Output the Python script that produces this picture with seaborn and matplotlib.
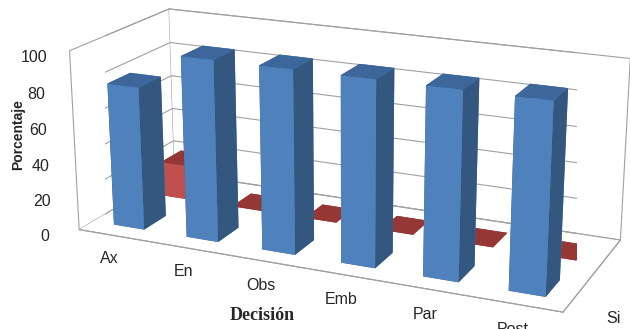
import numpy as np
import pandas as pd
import matplotlib
matplotlib.use("Agg")
import matplotlib.pyplot as plt
import seaborn as sns

# Chart data
categories = ["Ax", "En", "Obs", "Emb", "Par", "Post"]
series = ["Si", "No"]
si_values = [80, 100, 100, 100, 100, 100]
no_values = [20, 0, 0, 0, 0, 0]
z_ticks = [0, 20, 40, 60, 80, 100]

sns.set_style("white")
plt.rcParams["font.family"] = ["Liberation Sans Narrow", "Liberation Sans", "DejaVu Sans"]

df = pd.DataFrame({
    "Decisión": categories * 2,
    "Respuesta": ["Si"] * len(categories) + ["No"] * len(categories),
    "Porcentaje": si_values + no_values,
})

# Office-like face colours: front, side (+x), top
palette = {
    "Si": {"front": "#4F81BD", "side": "#34577F", "top": "#3D679B"},
    "No": {"front": "#C0504D", "side": "#8C3532", "top": "#953735"},
}

fig = plt.figure(figsize=(6.3, 3.29), dpi=100)
ax = fig.add_axes([-0.052, -0.181, 1.187, 1.434], projection="3d")
ax.set_proj_type("persp", focal_length=0.65)
ax.view_init(elev=18, azim=-66)

bar_w = 0.42
bar_d = 0.45
xs, ys, dzs, face_cols = [], [], [], []
for _, row in df.iterrows():
    xi = categories.index(row["Decisión"])
    yi = series.index(row["Respuesta"])
    xs.append(xi - bar_w / 2)
    ys.append(yi - bar_d / 2)
    dzs.append(row["Porcentaje"])
    c = palette[row["Respuesta"]]
    # bar3d face order: -z, +z, -y, +y, -x, +x
    face_cols += [c["top"], c["top"], c["front"], c["front"], c["side"], c["side"]]

n = len(xs)
ax.bar3d(xs, ys, np.zeros(n), np.full(n, bar_w), np.full(n, bar_d), dzs,
         color=face_cols, shade=False, edgecolor="none")

xmin, xmax = -0.5, len(categories) - 0.5
ymin, ymax = -0.5, len(series) - 0.5
ax.set_xlim(xmin, xmax)
ax.set_ylim(ymin, ymax)
ax.set_zlim(0, 100)
ax.set_box_aspect((6.8, 2.6, 2.5), zoom=1.2)

# Panes: white with grey outlines, no built-in grid
ax.grid(False)
for axis in (ax.xaxis, ax.yaxis, ax.zaxis):
    axis.set_pane_color((1, 1, 1, 1))
    axis.pane.set_edgecolor("#A0A0A0")
    axis.pane.set_linewidth(0.8)
    axis.line.set_color("#A0A0A0")
    axis.line.set_linewidth(0.8)
    axis._axinfo["tick"]["inward_factor"] = 0
    axis._axinfo["tick"]["outward_factor"] = 0
ax.zaxis.set_ticks_position("lower")

# Horizontal gridlines on the back and left walls
for z in z_ticks:
    ax.plot([xmin, xmax], [ymax, ymax], [z, z], color="#A0A0A0", lw=0.8, zorder=0)
    ax.plot([xmin, xmin], [ymin, ymax], [z, z], color="#A0A0A0", lw=0.8, zorder=0)

ax.set_xticks(range(len(categories)))
ax.set_xticklabels(categories, fontsize=11.5)
ax.set_yticks(range(len(series)))
ax.set_yticklabels(series, fontsize=11.5)
ax.set_zticks(z_ticks)
ax.set_zticklabels([str(v) for v in z_ticks], fontsize=11.5)
ax.set_xlabel("")
ax.set_ylabel("")
ax.set_zlabel("")

fig.text(0.029, 0.59, "Porcentaje", rotation=90, ha="center", va="center",
         fontsize=10, fontweight="bold", family=["Liberation Sans", "DejaVu Sans"])
fig.text(0.416, 0.04, "Decisión", ha="center", va="center",
         fontsize=13, fontweight="bold", family=["Liberation Serif", "DejaVu Serif"])

fig.savefig("out.png", dpi=100, facecolor="white")
